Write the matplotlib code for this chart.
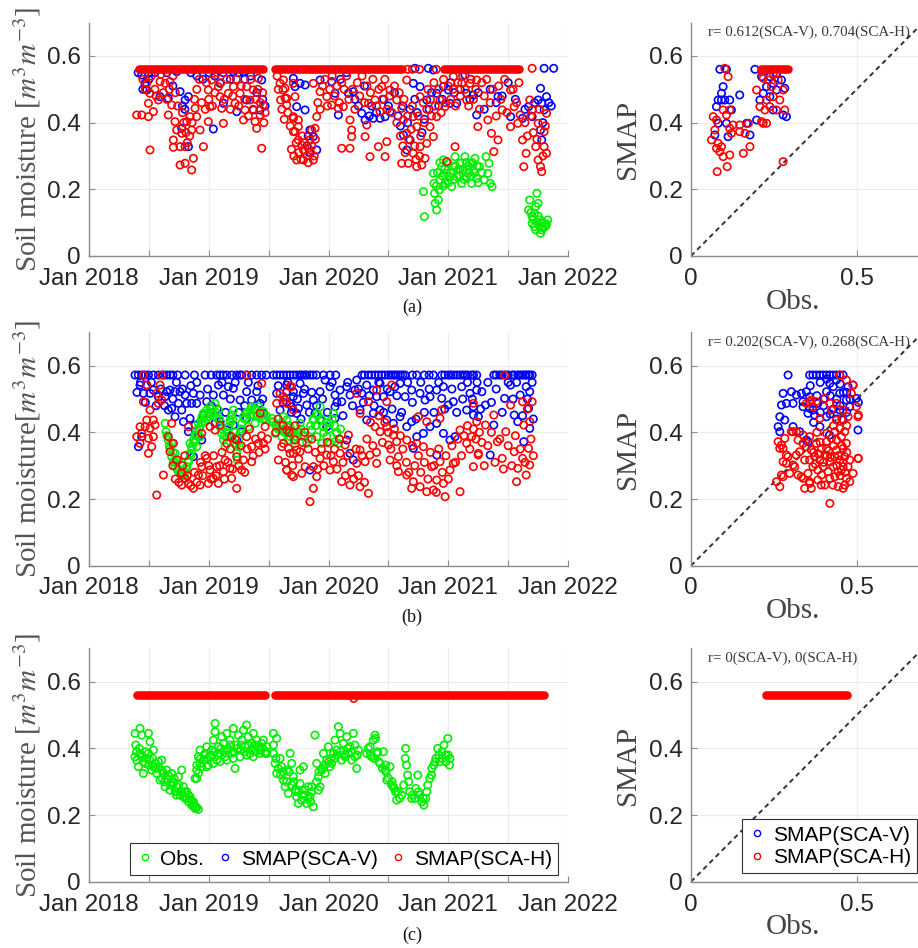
import numpy as np
import matplotlib
matplotlib.use('Agg')
import matplotlib.pyplot as plt
from matplotlib.lines import Line2D

plt.rcParams['font.family'] = ['Liberation Sans', 'DejaVu Sans']
plt.rcParams['mathtext.fontset'] = 'stix'

RED, BLUE, GREEN = '#ff0000', '#0000ff', '#00ee00'
SAT = 0.56  # SMAP saturation level seen in (a) and (c)

# ---------------- panel (a): time series, (decimal year, m3/m3) ----------------
a_h_runs = [(2018.42, 2019.455), (2019.555, 2020.61), (2020.96, 2021.59)]
a_h = [(2018.398, 0.423), (2018.44, 0.423), (2018.496, 0.418), (2018.509, 0.318), (2018.482, 0.518),
       (2018.509, 0.488), (2018.496, 0.458), (2018.537, 0.433), (2018.579, 0.468), (2018.593, 0.523),
       (2018.635, 0.518), (2018.676, 0.523), (2018.662, 0.423), (2018.69, 0.453), (2018.718, 0.403),
       (2018.732, 0.378), (2018.704, 0.348), (2018.704, 0.326), (2018.76, 0.328), (2018.802, 0.328),
       (2018.76, 0.273), (2018.802, 0.278), (2018.871, 0.293), (2018.857, 0.258), (2018.774, 0.368),
       (2018.816, 0.403), (2018.843, 0.418), (2018.885, 0.443), (2018.899, 0.418), (2018.857, 0.378),
       (2018.927, 0.378), (2018.955, 0.328), (2018.996, 0.403), (2019.01, 0.448), (2018.996, 0.498),
       (2019.024, 0.528), (2019.08, 0.508), (2019.094, 0.478), (2019.108, 0.443), (2019.122, 0.398),
       (2019.163, 0.488), (2019.205, 0.508), (2019.219, 0.458), (2019.261, 0.488), (2019.289, 0.408),
       (2019.303, 0.438), (2019.316, 0.508), (2019.344, 0.468), (2019.372, 0.498), (2019.386, 0.403),
       (2019.40, 0.383), (2019.428, 0.423), (2019.456, 0.453), (2019.442, 0.323), (2019.414, 0.533),
       (2018.45, 0.53), (2018.47, 0.50), (2018.52, 0.54), (2018.55, 0.50), (2018.56, 0.48),
       (2018.60, 0.545), (2018.62, 0.49), (2018.65, 0.47), (2018.67, 0.50), (2018.70, 0.54),
       (2018.72, 0.49), (2018.74, 0.45), (2018.78, 0.43), (2018.79, 0.40), (2018.81, 0.37),
       (2018.82, 0.34), (2018.84, 0.36), (2018.86, 0.40), (2018.88, 0.47), (2018.90, 0.50),
       (2018.92, 0.53), (2018.94, 0.46), (2018.97, 0.44), (2018.98, 0.52), (2019.00, 0.47),
       (2019.03, 0.45), (2019.05, 0.49), (2019.07, 0.55), (2019.10, 0.52), (2019.13, 0.47),
       (2019.15, 0.53), (2019.18, 0.44), (2019.20, 0.48), (2019.23, 0.53), (2019.25, 0.45),
       (2019.27, 0.51), (2019.30, 0.47), (2019.33, 0.42), (2019.35, 0.53), (2019.37, 0.44),
       (2019.39, 0.47), (2019.41, 0.50), (2019.43, 0.46), (2019.45, 0.49), (2019.46, 0.40),
       (2019.47, 0.43),
       (2019.595, 0.518), (2019.62, 0.498), (2019.60, 0.468), (2019.65, 0.473), (2019.706, 0.418),
       (2019.72, 0.373), (2019.748, 0.388), (2019.734, 0.288),
       (2019.623, 0.528), (2019.637, 0.503), (2019.637, 0.473), (2019.651, 0.453), (2019.706, 0.518),
       (2019.72, 0.478), (2019.706, 0.413), (2019.748, 0.408), (2019.706, 0.373), (2019.748, 0.348),
       (2019.776, 0.333), (2019.79, 0.318), (2019.832, 0.323), (2019.79, 0.288), (2019.873, 0.288),
       (2019.845, 0.348), (2019.859, 0.378), (2019.887, 0.383), (2019.901, 0.418), (2019.929, 0.493),
       (2019.873, 0.518), (2019.985, 0.478), (2020.026, 0.453), (2020.082, 0.443), (2020.124, 0.448),
       (2020.11, 0.323), (2020.179, 0.323), (2020.179, 0.408), (2020.193, 0.378), (2020.193, 0.358),
       (2020.305, 0.358), (2020.319, 0.393), (2020.333, 0.458), (2020.388, 0.468), (2020.346, 0.298),
       (2020.416, 0.328), (2020.472, 0.298), (2020.486, 0.343), (2020.43, 0.433), (2020.444, 0.508),
       (2020.513, 0.498), (2020.569, 0.468), (2020.611, 0.443), (2020.625, 0.408), (2020.653, 0.368),
       (2020.611, 0.278), (2020.666, 0.278), (2020.708, 0.308), (2020.736, 0.268), (2020.778, 0.273),
       (2020.806, 0.293), (2020.82, 0.338), (2020.764, 0.328), (2020.736, 0.388), (2020.708, 0.418),
       (2020.653, 0.528), (2020.764, 0.478), (2020.847, 0.388), (2020.875, 0.358), (2020.903, 0.418),
       (2020.931, 0.468), (2020.973, 0.448), (2021.056, 0.328), (2020.987, 0.283), (2021.042, 0.538),
       (2021.112, 0.518), (2021.181, 0.518), (2021.153, 0.468), (2021.237, 0.528), (2020.66, 0.56),
       (2020.70, 0.56), (2020.76, 0.56), (2020.90, 0.56),
       (2019.57, 0.54), (2019.58, 0.50), (2019.61, 0.44), (2019.63, 0.41), (2019.66, 0.43),
       (2019.68, 0.39), (2019.69, 0.32), (2019.71, 0.30), (2019.73, 0.34), (2019.75, 0.31),
       (2019.77, 0.29), (2019.78, 0.36), (2019.80, 0.34), (2019.82, 0.30), (2019.83, 0.28),
       (2019.85, 0.31), (2019.86, 0.33), (2019.88, 0.30), (2019.89, 0.35), (2019.91, 0.46),
       (2019.93, 0.44), (2019.95, 0.51), (2019.97, 0.53), (2019.99, 0.45), (2020.01, 0.50),
       (2020.03, 0.54), (2020.05, 0.48), (2020.07, 0.51), (2020.09, 0.46), (2020.11, 0.52),
       (2020.13, 0.50), (2020.15, 0.54), (2020.17, 0.47), (2020.20, 0.50), (2020.22, 0.44),
       (2020.24, 0.52), (2020.26, 0.48), (2020.28, 0.54), (2020.30, 0.46), (2020.32, 0.51),
       (2020.35, 0.49), (2020.37, 0.53), (2020.40, 0.45), (2020.42, 0.50), (2020.45, 0.47),
       (2020.47, 0.53), (2020.49, 0.44), (2020.51, 0.48), (2020.53, 0.43), (2020.55, 0.51),
       (2020.57, 0.40), (2020.59, 0.49), (2020.60, 0.36), (2020.62, 0.33), (2020.63, 0.47),
       (2020.64, 0.31), (2020.66, 0.42), (2020.67, 0.35), (2020.69, 0.38), (2020.70, 0.45),
       (2020.72, 0.33), (2020.73, 0.29), (2020.75, 0.42), (2020.76, 0.30), (2020.77, 0.36),
       (2020.79, 0.46), (2020.80, 0.40), (2020.82, 0.44), (2020.83, 0.50), (2020.85, 0.47),
       (2020.86, 0.42), (2020.88, 0.52), (2020.89, 0.45), (2020.92, 0.50), (2020.94, 0.43),
       (2020.96, 0.53), (2020.98, 0.46), (2021.00, 0.51), (2021.02, 0.47), (2021.04, 0.50),
       (2021.06, 0.45), (2021.08, 0.52), (2021.10, 0.48), (2021.12, 0.54), (2021.14, 0.50),
       (2021.17, 0.45), (2021.19, 0.53), (2021.21, 0.47), (2021.23, 0.50), (2021.26, 0.44),
       (2021.28, 0.52), (2021.30, 0.48), (2021.32, 0.53), (2021.35, 0.46), (2021.37, 0.50),
       (2021.40, 0.42), (2021.42, 0.51), (2021.44, 0.47), (2021.47, 0.53), (2021.49, 0.43),
       (2021.54, 0.50), (2021.57, 0.46), (2021.59, 0.52), (2021.64, 0.40), (2021.66, 0.36),
       (2021.69, 0.42), (2021.71, 0.37), (2021.74, 0.35), (2021.76, 0.44), (2021.79, 0.30),
       (2021.81, 0.39),
       (2021.247, 0.388), (2021.33, 0.408), (2021.38, 0.313), (2021.45, 0.438), (2021.52, 0.498),
       (2021.52, 0.388), (2021.60, 0.423), (2021.62, 0.348), (2021.65, 0.308), (2021.63, 0.268),
       (2021.68, 0.468), (2021.70, 0.438), (2021.73, 0.328), (2021.75, 0.288), (2021.77, 0.268),
       (2021.78, 0.253), (2021.80, 0.373), (2021.80, 0.328), (2021.82, 0.428), (2021.82, 0.308),
       (2021.75, 0.398), (2021.70, 0.563), (2021.36, 0.368), (2021.415, 0.348), (2021.55, 0.448),
       (2021.58, 0.398)]
a_v = [(2018.44, 0.543), (2018.468, 0.518), (2018.482, 0.498), (2018.496, 0.548), (2018.593, 0.478),
       (2018.662, 0.473), (2018.76, 0.493), (2018.802, 0.468), (2018.83, 0.478), (2018.774, 0.383),
       (2019.038, 0.381), (2019.094, 0.518), (2019.122, 0.458), (2019.233, 0.433), (2019.316, 0.468),
       (2019.372, 0.438), (2019.442, 0.528), (2019.428, 0.438), (2018.83, 0.328), (2018.732, 0.553),
       (2019.205, 0.553), (2019.289, 0.553), (2019.706, 0.533), (2019.72, 0.508), (2019.734, 0.448),
       (2018.41, 0.55), (2018.45, 0.50), (2018.50, 0.53), (2018.55, 0.55), (2018.65, 0.55),
       (2018.70, 0.51), (2018.78, 0.45), (2018.80, 0.44), (2018.85, 0.55), (2018.90, 0.54),
       (2018.95, 0.53), (2019.00, 0.55), (2019.05, 0.54), (2019.12, 0.55), (2019.18, 0.53),
       (2019.25, 0.55), (2019.30, 0.53), (2019.35, 0.54), (2019.40, 0.49), (2019.45, 0.47),
       (2019.47, 0.45),
       (2019.762, 0.518), (2019.804, 0.513), (2019.804, 0.438), (2019.845, 0.378), (2019.873, 0.358),
       (2019.901, 0.318), (2019.929, 0.528), (2020.026, 0.523), (2020.054, 0.488), (2020.082, 0.423),
       (2020.166, 0.488), (2020.207, 0.493), (2020.277, 0.428), (2020.305, 0.408), (2020.374, 0.413),
       (2020.43, 0.413), (2020.472, 0.418), (2020.513, 0.433), (2020.625, 0.363), (2020.653, 0.318),
       (2020.68, 0.348), (2020.708, 0.518), (2020.722, 0.563), (2020.833, 0.563), (2020.875, 0.558),
       (2020.764, 0.508), (2020.82, 0.468), (2020.903, 0.488), (2020.959, 0.508), (2021.0, 0.498),
       (2021.014, 0.458), (2021.07, 0.458), (2021.153, 0.488), (2021.209, 0.483), (2021.237, 0.423),
       (2021.139, 0.543),
       (2019.82, 0.33), (2019.83, 0.36), (2019.84, 0.31), (2020.10, 0.53), (2020.15, 0.55),
       (2020.22, 0.47), (2020.25, 0.45), (2020.30, 0.51), (2020.34, 0.42), (2020.36, 0.45),
       (2020.40, 0.43), (2020.46, 0.47), (2020.50, 0.45), (2020.55, 0.49), (2020.58, 0.42),
       (2020.60, 0.39), (2020.62, 0.45), (2020.66, 0.40), (2020.68, 0.44), (2020.72, 0.47),
       (2020.74, 0.43), (2020.78, 0.37), (2020.80, 0.41), (2020.84, 0.44), (2020.86, 0.49),
       (2020.92, 0.45), (2020.95, 0.47), (2021.02, 0.52), (2021.05, 0.49), (2021.10, 0.50),
       (2021.18, 0.47), (2021.25, 0.49), (2021.30, 0.44), (2021.35, 0.50), (2021.40, 0.46),
       (2021.45, 0.48), (2021.50, 0.52), (2021.56, 0.47), (2021.64, 0.44), (2021.72, 0.46),
       (2021.79, 0.40), (2021.84, 0.46), (2021.86, 0.45),
       (2021.62, 0.413), (2021.67, 0.448), (2021.70, 0.418), (2021.75, 0.468),
       (2021.77, 0.503), (2021.78, 0.458), (2021.80, 0.438), (2021.82, 0.478), (2021.80, 0.563),
       (2021.88, 0.563), (2021.77, 0.378), (2021.78, 0.348), (2021.52, 0.418), (2021.415, 0.478)]
a_obs = [(2020.792, 0.193), (2020.80, 0.118), (2020.875, 0.248), (2020.88, 0.218), (2020.885, 0.188),
         (2020.89, 0.158), (2020.903, 0.138), (2020.917, 0.168), (2020.924, 0.198), (2020.931, 0.228),
         (2020.945, 0.268), (2020.959, 0.288), (2020.973, 0.218), (2020.987, 0.248), (2021.0, 0.278),
         (2021.014, 0.238), (2021.028, 0.208), (2021.042, 0.268), (2021.056, 0.298), (2021.07, 0.238),
         (2021.084, 0.26), (2021.098, 0.278), (2021.112, 0.218), (2021.126, 0.258), (2021.139, 0.298),
         (2021.153, 0.238), (2021.167, 0.27), (2021.181, 0.278), (2021.195, 0.218), (2021.209, 0.258),
         (2021.223, 0.293), (2021.237, 0.233), (2021.26, 0.268), (2021.28, 0.25), (2021.30, 0.228),
         (2021.315, 0.298), (2021.33, 0.248), (2021.34, 0.278), (2021.35, 0.218), (2021.365, 0.208),
         (2020.95, 0.24), (2020.97, 0.26), (2021.0, 0.22), (2021.02, 0.25), (2021.05, 0.23),
         (2021.06, 0.27), (2021.09, 0.24), (2021.10, 0.26), (2021.13, 0.23), (2021.15, 0.28),
         (2021.17, 0.25), (2021.19, 0.24), (2021.20, 0.28), (2021.22, 0.25), (2021.24, 0.27),
         (2021.25, 0.22), (2020.91, 0.25), (2020.90, 0.21), (2020.93, 0.28), (2020.96, 0.21),
         (2021.67, 0.138), (2021.68, 0.168), (2021.70, 0.118), (2021.72, 0.088), (2021.73, 0.148),
         (2021.74, 0.188), (2021.75, 0.158), (2021.77, 0.108), (2021.78, 0.078), (2021.80, 0.098),
         (2021.81, 0.088), (2021.83, 0.108), (2021.77, 0.068), (2021.73, 0.078), (2021.70, 0.098),
         (2021.72, 0.128), (2021.69, 0.13), (2021.71, 0.11), (2021.74, 0.10), (2021.76, 0.09),
         (2021.79, 0.085), (2021.82, 0.095), (2021.75, 0.12), (2021.78, 0.10)]

# panel (a): scatter, (obs, SMAP)
a_sc_h_runs = [(0.21, 0.292)]
a_sc_h = [(0.102, 0.563), (0.112, 0.538), (0.067, 0.418), (0.077, 0.408), (0.072, 0.378), (0.062, 0.348),
          (0.082, 0.338), (0.077, 0.323), (0.087, 0.313), (0.092, 0.328), (0.097, 0.298), (0.117, 0.303),
          (0.079, 0.253), (0.109, 0.268), (0.097, 0.438), (0.107, 0.423), (0.117, 0.438), (0.122, 0.368),
          (0.127, 0.393), (0.117, 0.383), (0.147, 0.373), (0.163, 0.368), (0.173, 0.398), (0.158, 0.308),
          (0.178, 0.328), (0.147, 0.393), (0.198, 0.498), (0.208, 0.448), (0.218, 0.398), (0.223, 0.438),
          (0.228, 0.468), (0.238, 0.448), (0.243, 0.508), (0.248, 0.478), (0.258, 0.438), (0.263, 0.528),
          (0.278, 0.498), (0.283, 0.438), (0.268, 0.468), (0.233, 0.528), (0.218, 0.533), (0.213, 0.553),
          (0.248, 0.548), (0.278, 0.283), (0.213, 0.403), (0.228, 0.398)]
a_sc_v = [(0.087, 0.56), (0.107, 0.56), (0.097, 0.508), (0.082, 0.468), (0.092, 0.468), (0.102, 0.468),
          (0.117, 0.468), (0.092, 0.488), (0.077, 0.448), (0.082, 0.398), (0.072, 0.363), (0.107, 0.398),
          (0.112, 0.358), (0.122, 0.438), (0.147, 0.483), (0.168, 0.398), (0.178, 0.363), (0.198, 0.408),
          (0.193, 0.56), (0.213, 0.538), (0.218, 0.488), (0.228, 0.508), (0.238, 0.478), (0.248, 0.518),
          (0.258, 0.498), (0.273, 0.528), (0.283, 0.503), (0.288, 0.418), (0.278, 0.423), (0.248, 0.438),
          (0.208, 0.468), (0.258, 0.548), (0.238, 0.538)]

# ---------------- panel (b): time series ----------------
b_v = [(2018.384, 0.572), (2018.412, 0.572), (2018.44, 0.572), (2018.468, 0.572), (2018.496, 0.572),
       (2018.537, 0.572), (2018.579, 0.572), (2018.621, 0.572), (2018.649, 0.572), (2018.676, 0.572),
       (2018.802, 0.572), (2018.969, 0.572), (2019.066, 0.572), (2019.094, 0.572), (2019.15, 0.572),
       (2019.191, 0.572), (2019.233, 0.572), (2019.275, 0.572), (2019.316, 0.572), (2019.358, 0.572),
       (2019.40, 0.572), (2019.442, 0.572), (2019.539, 0.572), (2019.567, 0.572), (2019.595, 0.572),
       (2019.623, 0.572), (2019.651, 0.572), (2019.678, 0.572), (2019.706, 0.572), (2019.734, 0.572),
       (2019.776, 0.572), (2019.818, 0.572), (2019.845, 0.572), (2019.957, 0.572), (2020.012, 0.572),
       (2020.333, 0.572), (2020.36, 0.572), (2020.388, 0.572), (2020.416, 0.572), (2020.444, 0.572),
       (2020.472, 0.572), (2020.50, 0.572), (2020.541, 0.572), (2020.639, 0.572), (2020.736, 0.572),
       (2020.875, 0.572), (2020.945, 0.572), (2021.0, 0.572), (2021.042, 0.572), (2021.098, 0.572),
       (2021.139, 0.572), (2021.195, 0.572), (2021.237, 0.572), (2021.38, 0.572), (2021.43, 0.572),
       (2021.48, 0.572), (2021.535, 0.572), (2021.58, 0.572), (2021.62, 0.572), (2021.65, 0.572),
       (2021.68, 0.572),
       (2018.70, 0.572), (2018.74, 0.572), (2018.88, 0.572), (2019.02, 0.572), (2019.12, 0.572),
       (2019.26, 0.572), (2019.48, 0.572), (2019.76, 0.572), (2019.80, 0.572), (2019.87, 0.572),
       (2019.90, 0.572), (2020.06, 0.572), (2020.28, 0.572), (2020.30, 0.572), (2020.52, 0.572),
       (2020.56, 0.572), (2020.58, 0.572), (2020.60, 0.572), (2020.62, 0.572), (2020.70, 0.572),
       (2020.80, 0.572), (2020.84, 0.572), (2020.97, 0.572), (2021.02, 0.572), (2021.07, 0.572),
       (2021.12, 0.572), (2021.16, 0.572), (2021.21, 0.572), (2021.40, 0.572), (2021.45, 0.572),
       (2021.50, 0.572), (2021.55, 0.572), (2021.60, 0.572), (2021.64, 0.572), (2021.67, 0.572),
       (2021.70, 0.572),
       (2018.426, 0.542), (2018.454, 0.517), (2018.482, 0.542), (2018.509, 0.517), (2018.537, 0.527),
       (2018.579, 0.507), (2018.635, 0.507), (2018.649, 0.522), (2018.676, 0.527), (2018.718, 0.522),
       (2018.76, 0.522), (2018.662, 0.467), (2018.69, 0.472), (2018.746, 0.487), (2018.774, 0.467),
       (2018.816, 0.487), (2018.857, 0.487), (2018.899, 0.487), (2018.802, 0.512), (2018.871, 0.517),
       (2018.927, 0.512), (2018.718, 0.447), (2018.788, 0.432), (2018.843, 0.442), (2018.83, 0.402),
       (2018.885, 0.422), (2018.913, 0.387), (2018.941, 0.377), (2018.871, 0.327), (2018.983, 0.492),
       (2019.038, 0.512), (2019.08, 0.542), (2019.122, 0.512), (2019.163, 0.537), (2019.205, 0.532),
       (2019.261, 0.497), (2019.316, 0.522), (2019.358, 0.497), (2019.40, 0.522), (2019.428, 0.487),
       (2019.01, 0.457), (2019.052, 0.427), (2019.094, 0.432), (2019.15, 0.407), (2019.205, 0.422),
       (2019.233, 0.377), (2019.275, 0.402), (2019.316, 0.442), (2019.456, 0.457), (2018.412, 0.357),
       (2018.44, 0.387), (2019.567, 0.517), (2019.651, 0.522), (2019.706, 0.507), (2019.692, 0.477),
       (2019.734, 0.457), (2019.595, 0.467),
       (2018.40, 0.52), (2018.43, 0.55), (2018.47, 0.49), (2018.52, 0.55), (2018.56, 0.48),
       (2018.60, 0.53), (2018.63, 0.48), (2018.70, 0.50), (2018.73, 0.55), (2018.78, 0.53),
       (2018.85, 0.54), (2018.90, 0.55), (2018.95, 0.45), (2018.99, 0.53), (2019.02, 0.48),
       (2019.07, 0.47), (2019.11, 0.55), (2019.14, 0.46), (2019.18, 0.50), (2019.22, 0.55),
       (2019.25, 0.46), (2019.30, 0.48), (2019.33, 0.55), (2019.38, 0.47), (2019.41, 0.54),
       (2019.45, 0.50), (2019.58, 0.54), (2019.62, 0.49), (2019.66, 0.55), (2019.69, 0.46),
       (2019.74, 0.50), (2019.77, 0.44), (2019.80, 0.53), (2019.84, 0.46), (2019.86, 0.52),
       (2019.90, 0.48), (2019.95, 0.50), (2019.99, 0.46), (2020.03, 0.55), (2020.07, 0.49),
       (2020.12, 0.45), (2020.16, 0.55), (2020.20, 0.48), (2020.25, 0.53), (2020.29, 0.49),
       (2020.34, 0.51), (2020.38, 0.48), (2020.42, 0.55), (2020.46, 0.46), (2020.49, 0.53),
       (2020.53, 0.47), (2020.57, 0.51), (2020.61, 0.46), (2020.66, 0.55), (2020.70, 0.49),
       (2020.73, 0.44), (2020.77, 0.55), (2020.80, 0.46), (2020.84, 0.53), (2020.88, 0.46),
       (2020.92, 0.55), (2020.97, 0.47), (2021.03, 0.53), (2021.07, 0.46), (2021.12, 0.50),
       (2021.16, 0.55), (2021.20, 0.50), (2021.24, 0.55), (2021.27, 0.47), (2021.33, 0.55),
       (2021.36, 0.49), (2021.40, 0.53), (2021.45, 0.46), (2021.50, 0.55), (2021.54, 0.50),
       (2021.57, 0.55), (2021.62, 0.45), (2021.66, 0.50), (2021.70, 0.55), (2021.71, 0.44),
       (2019.651, 0.542), (2019.706, 0.522), (2019.762, 0.547), (2019.79, 0.517), (2019.678, 0.487),
       (2019.748, 0.472), (2019.818, 0.482), (2019.873, 0.497), (2019.929, 0.522), (2019.971, 0.557),
       (2020.012, 0.537), (2020.054, 0.512), (2020.096, 0.527), (2020.054, 0.477), (2019.887, 0.457),
       (2019.929, 0.437), (2019.985, 0.417), (2020.054, 0.442), (2020.11, 0.492), (2020.152, 0.537),
       (2020.179, 0.512), (2020.235, 0.557), (2020.221, 0.527), (2020.277, 0.517), (2020.319, 0.542),
       (2020.374, 0.527), (2020.43, 0.547), (2020.402, 0.507), (2020.458, 0.507), (2020.513, 0.522),
       (2020.555, 0.537), (2020.597, 0.547), (2020.639, 0.507), (2020.694, 0.527), (2020.764, 0.517),
       (2020.806, 0.497), (2020.847, 0.507), (2020.903, 0.527), (2020.959, 0.537), (2020.945, 0.502),
       (2021.0, 0.482), (2021.042, 0.492), (2021.112, 0.537), (2021.181, 0.517), (2021.237, 0.527),
       (2020.263, 0.467), (2020.319, 0.437), (2020.374, 0.457), (2020.43, 0.467), (2020.486, 0.437),
       (2020.541, 0.427), (2020.597, 0.447), (2020.653, 0.417), (2020.694, 0.432), (2020.736, 0.387),
       (2020.792, 0.397), (2020.847, 0.417), (2020.903, 0.427), (2020.959, 0.397), (2021.014, 0.377),
       (2021.056, 0.387), (2020.152, 0.377), (2020.179, 0.337), (2020.207, 0.317), (2019.845, 0.287),
       (2020.708, 0.352), (2020.903, 0.332), (2021.153, 0.467), (2021.209, 0.477), (2021.251, 0.447),
       (2021.28, 0.522), (2021.31, 0.482), (2021.47, 0.502), (2021.52, 0.542), (2021.55, 0.452),
       (2021.58, 0.432), (2021.60, 0.512), (2021.63, 0.372), (2021.65, 0.537), (2021.68, 0.522),
       (2021.67, 0.472), (2021.68, 0.412), (2021.38, 0.422), (2021.35, 0.332), (2021.21, 0.452)]
b_h = [(2018.454, 0.572), (2018.607, 0.572), (2018.482, 0.542), (2018.593, 0.542), (2018.565, 0.517),
       (2018.607, 0.497), (2018.579, 0.487), (2018.454, 0.492), (2018.509, 0.467), (2018.482, 0.437),
       (2018.537, 0.437), (2018.426, 0.417), (2018.468, 0.417), (2018.509, 0.412), (2018.551, 0.422),
       (2018.398, 0.387), (2018.44, 0.397), (2018.496, 0.382), (2018.537, 0.387), (2018.426, 0.367),
       (2018.523, 0.357), (2018.496, 0.337), (2018.621, 0.272), (2018.565, 0.212), (2018.69, 0.427),
       (2018.662, 0.387), (2018.704, 0.367), (2018.676, 0.342), (2018.732, 0.317), (2018.774, 0.277),
       (2018.802, 0.262), (2018.774, 0.242), (2018.83, 0.247), (2018.871, 0.232), (2018.927, 0.242),
       (2018.913, 0.272), (2018.941, 0.297), (2018.983, 0.322), (2019.01, 0.287), (2019.038, 0.262),
       (2018.996, 0.247), (2019.08, 0.247), (2019.066, 0.297), (2019.136, 0.317), (2019.122, 0.282),
       (2019.177, 0.292), (2019.191, 0.262), (2019.233, 0.232), (2019.233, 0.327), (2019.289, 0.317),
       (2019.275, 0.287), (2019.358, 0.312), (2019.316, 0.387), (2019.358, 0.357), (2019.414, 0.367),
       (2019.456, 0.367), (2019.47, 0.417), (2019.428, 0.457), (2019.442, 0.547), (2019.316, 0.572),
       (2019.052, 0.407), (2019.094, 0.422), (2019.15, 0.367), (2019.191, 0.387), (2018.941, 0.397),
       (2019.01, 0.417), (2018.83, 0.417), (2019.595, 0.517), (2019.637, 0.497), (2019.692, 0.537),
       (2019.567, 0.487), (2019.609, 0.357), (2019.581, 0.317), (2019.678, 0.337), (2019.734, 0.347),
       (2019.651, 0.287), (2019.706, 0.267), (2019.72, 0.377), (2019.651, 0.407),
       (2018.70, 0.30), (2018.72, 0.26), (2018.75, 0.25), (2018.78, 0.30), (2018.80, 0.33),
       (2018.82, 0.27), (2018.85, 0.24), (2018.88, 0.28), (2018.90, 0.25), (2018.93, 0.31),
       (2018.95, 0.27), (2018.97, 0.33), (2019.00, 0.30), (2019.02, 0.26), (2019.04, 0.33),
       (2019.06, 0.27), (2019.09, 0.30), (2019.11, 0.34), (2019.13, 0.26), (2019.16, 0.31),
       (2019.18, 0.35), (2019.20, 0.29), (2019.22, 0.38), (2019.25, 0.30), (2019.27, 0.36),
       (2019.30, 0.28), (2019.32, 0.35), (2019.34, 0.41), (2019.37, 0.33), (2019.39, 0.38),
       (2019.42, 0.34), (2019.44, 0.39), (2019.47, 0.35), (2019.49, 0.38),
       (2019.56, 0.40), (2019.58, 0.44), (2019.62, 0.42), (2019.64, 0.31), (2019.67, 0.40),
       (2019.70, 0.30), (2019.72, 0.42), (2019.75, 0.32), (2019.78, 0.37), (2019.80, 0.40),
       (2019.83, 0.35), (2019.86, 0.38), (2019.89, 0.34), (2019.91, 0.29), (2019.94, 0.35),
       (2019.96, 0.30), (2019.99, 0.37), (2020.02, 0.33), (2020.05, 0.35), (2020.07, 0.29),
       (2020.09, 0.38), (2020.12, 0.31), (2020.14, 0.27), (2020.16, 0.33), (2020.19, 0.28),
       (2020.21, 0.26), (2020.23, 0.35), (2020.25, 0.27), (2020.28, 0.33), (2020.30, 0.25),
       (2020.32, 0.38), (2020.35, 0.43), (2020.37, 0.36), (2020.40, 0.34), (2020.42, 0.45),
       (2020.45, 0.37), (2020.47, 0.43), (2020.50, 0.40), (2020.52, 0.35), (2020.55, 0.41),
       (2020.57, 0.30), (2020.60, 0.39), (2020.62, 0.35), (2020.65, 0.31), (2020.67, 0.28),
       (2020.70, 0.36), (2020.72, 0.30), (2020.75, 0.33), (2020.77, 0.28), (2020.80, 0.31),
       (2020.83, 0.26), (2020.85, 0.34), (2020.88, 0.30), (2020.90, 0.22), (2020.92, 0.35),
       (2020.95, 0.28), (2020.98, 0.33), (2021.00, 0.26), (2021.03, 0.36), (2021.06, 0.31),
       (2021.08, 0.38), (2021.11, 0.33), (2021.13, 0.39), (2021.16, 0.42), (2021.18, 0.35),
       (2021.21, 0.41), (2021.23, 0.38), (2021.26, 0.40), (2021.28, 0.37), (2021.30, 0.30),
       (2021.33, 0.36), (2021.36, 0.40), (2021.39, 0.31), (2021.43, 0.38), (2021.46, 0.29),
       (2021.50, 0.36), (2021.53, 0.30), (2021.56, 0.39), (2021.60, 0.35), (2021.64, 0.31),
       (2021.66, 0.47), (2021.69, 0.38), (2021.71, 0.33),
       (2019.678, 0.537), (2019.623, 0.507), (2019.651, 0.487), (2019.706, 0.467), (2019.623, 0.367),
       (2019.665, 0.352), (2019.706, 0.337), (2019.762, 0.342), (2019.651, 0.287), (2019.692, 0.272),
       (2019.776, 0.277), (2019.804, 0.297), (2019.873, 0.297), (2019.901, 0.267), (2019.873, 0.232),
       (2019.845, 0.192), (2019.929, 0.322), (2019.985, 0.332), (2020.04, 0.312), (2020.012, 0.287),
       (2020.096, 0.337), (2020.138, 0.362), (2020.166, 0.392), (2020.11, 0.252), (2020.179, 0.242),
       (2020.263, 0.237), (2020.333, 0.217), (2020.235, 0.307), (2020.305, 0.312), (2020.346, 0.332),
       (2020.402, 0.307), (2020.263, 0.347), (2020.235, 0.517), (2020.333, 0.492), (2020.402, 0.527),
       (2020.486, 0.492), (2020.527, 0.542), (2020.263, 0.457), (2020.388, 0.417), (2020.43, 0.402),
       (2020.486, 0.417), (2020.541, 0.392), (2020.569, 0.372), (2020.50, 0.362), (2020.583, 0.327),
       (2020.513, 0.317), (2020.583, 0.282), (2020.653, 0.272), (2020.708, 0.252), (2020.694, 0.232),
       (2020.764, 0.237), (2020.82, 0.222), (2020.875, 0.227), (2020.903, 0.257), (2020.959, 0.247),
       (2020.973, 0.207), (2021.098, 0.222), (2020.861, 0.297), (2020.931, 0.312), (2021.014, 0.287),
       (2021.042, 0.307), (2020.75, 0.447), (2020.82, 0.432), (2020.931, 0.442), (2020.945, 0.467),
       (2021.098, 0.407), (2021.153, 0.367), (2021.195, 0.387), (2021.209, 0.487), (2021.237, 0.432),
       (2021.209, 0.297), (2021.251, 0.337), (2020.736, 0.367), (2020.792, 0.357), (2020.653, 0.377),
       (2021.25, 0.332), (2021.31, 0.422), (2021.38, 0.452), (2021.41, 0.372), (2021.45, 0.322),
       (2021.48, 0.402), (2021.52, 0.482), (2021.55, 0.342), (2021.57, 0.252), (2021.58, 0.292),
       (2021.62, 0.322), (2021.63, 0.422), (2021.65, 0.272), (2021.67, 0.352), (2021.68, 0.302),
       (2021.70, 0.492), (2021.68, 0.432), (2021.62, 0.492), (2021.47, 0.572)]
b_obs = [(2018.635, 0.427), (2018.643, 0.402), (2018.662, 0.377), (2018.676, 0.352), (2018.69, 0.327),
         (2018.704, 0.312), (2018.718, 0.297), (2018.738, 0.287), (2018.76, 0.277), (2018.782, 0.272),
         (2018.802, 0.282), (2018.69, 0.367), (2018.718, 0.337), (2018.746, 0.317), (2018.816, 0.297),
         (2018.83, 0.317), (2018.843, 0.337), (2018.857, 0.357), (2018.871, 0.377), (2018.885, 0.392),
         (2018.899, 0.407), (2018.913, 0.427), (2018.927, 0.417), (2018.941, 0.442), (2018.955, 0.457),
         (2018.969, 0.432), (2018.983, 0.467), (2018.996, 0.447), (2018.843, 0.367), (2018.899, 0.357),
         (2018.927, 0.387), (2019.01, 0.477), (2019.038, 0.457), (2019.052, 0.487), (2019.066, 0.442),
         (2019.08, 0.467), (2019.094, 0.417), (2019.108, 0.397), (2019.122, 0.377), (2019.136, 0.357),
         (2019.15, 0.387), (2019.163, 0.417), (2019.177, 0.437), (2019.191, 0.452), (2019.205, 0.467),
         (2019.219, 0.367), (2019.233, 0.337), (2019.24, 0.317), (2019.255, 0.357), (2019.261, 0.397),
         (2019.275, 0.427), (2019.289, 0.447), (2019.316, 0.457), (2019.344, 0.467), (2019.358, 0.477),
         (2019.372, 0.452), (2019.40, 0.467), (2019.414, 0.477), (2019.428, 0.447), (2019.456, 0.462),
         (2019.47, 0.442), (2019.33, 0.417), (2019.386, 0.427), (2019.525, 0.442), (2019.539, 0.432),
         (2019.567, 0.417), (2019.595, 0.422), (2019.623, 0.407), (2019.651, 0.437), (2019.678, 0.417),
         (2019.706, 0.402), (2019.734, 0.387), (2019.553, 0.397), (2019.609, 0.387), (2019.664, 0.377),
         (2019.623, 0.447), (2019.651, 0.417), (2019.678, 0.387), (2019.72, 0.367), (2019.748, 0.402),
         (2019.762, 0.427), (2019.79, 0.387), (2019.818, 0.367), (2019.859, 0.407), (2019.873, 0.437),
         (2019.901, 0.457), (2019.929, 0.477), (2019.957, 0.417), (2019.985, 0.387), (2020.012, 0.427),
         (2020.04, 0.457), (2020.068, 0.397), (2020.082, 0.367), (2020.054, 0.372), (2019.901, 0.387),
         (2019.943, 0.367), (2020.012, 0.367),
         (2018.65, 0.39), (2018.67, 0.36), (2018.70, 0.34), (2018.72, 0.31), (2018.75, 0.29),
         (2018.77, 0.28), (2018.79, 0.27), (2018.81, 0.29), (2018.83, 0.31), (2018.85, 0.33),
         (2018.86, 0.35), (2018.88, 0.37), (2018.90, 0.39), (2018.92, 0.41), (2018.94, 0.43),
         (2018.96, 0.45), (2018.98, 0.44), (2019.00, 0.46), (2019.02, 0.47), (2019.04, 0.45),
         (2019.06, 0.46), (2019.09, 0.44), (2019.11, 0.41), (2019.13, 0.39), (2019.16, 0.40),
         (2019.18, 0.43), (2019.20, 0.44), (2019.22, 0.40), (2019.23, 0.36), (2019.25, 0.38),
         (2019.27, 0.41), (2019.30, 0.44), (2019.32, 0.46), (2019.35, 0.45), (2019.38, 0.47),
         (2019.40, 0.45), (2019.43, 0.46), (2019.45, 0.44), (2019.48, 0.45), (2019.53, 0.43),
         (2019.56, 0.42), (2019.58, 0.41), (2019.61, 0.43), (2019.63, 0.40), (2019.66, 0.42),
         (2019.69, 0.40), (2019.71, 0.38), (2019.74, 0.40), (2019.77, 0.41), (2019.80, 0.39),
         (2019.83, 0.38), (2019.85, 0.42), (2019.87, 0.44), (2019.89, 0.42), (2019.91, 0.45),
         (2019.94, 0.44), (2019.96, 0.40), (2019.98, 0.43), (2020.00, 0.41), (2020.03, 0.44),
         (2020.05, 0.42), (2020.07, 0.40), (2020.09, 0.38), (2020.10, 0.41)]

# panel (b): scatter
b_sc_v = [(0.293, 0.572), (0.358, 0.572), (0.368, 0.572), (0.378, 0.572), (0.389, 0.572), (0.399, 0.572),
          (0.409, 0.572), (0.419, 0.572), (0.429, 0.572), (0.439, 0.572), (0.449, 0.572), (0.459, 0.572),
          (0.278, 0.517), (0.303, 0.522), (0.318, 0.512), (0.333, 0.517), (0.348, 0.522), (0.358, 0.507),
          (0.273, 0.482), (0.288, 0.487), (0.268, 0.447), (0.283, 0.437), (0.263, 0.417), (0.268, 0.402),
          (0.338, 0.477), (0.353, 0.457), (0.368, 0.467), (0.383, 0.487), (0.409, 0.522), (0.429, 0.537),
          (0.449, 0.517), (0.469, 0.497), (0.479, 0.477), (0.499, 0.502), (0.504, 0.407), (0.449, 0.467),
          (0.409, 0.447), (0.389, 0.417), (0.348, 0.377), (0.328, 0.402), (0.308, 0.417), (0.459, 0.437),
          (0.474, 0.537), (0.489, 0.542), (0.439, 0.557), (0.419, 0.547), (0.308, 0.487), (0.338, 0.492),
          (0.358, 0.472), (0.373, 0.452), (0.353, 0.372), (0.418, 0.392), (0.505, 0.49), (0.38, 0.51),
          (0.40, 0.50), (0.42, 0.51), (0.44, 0.50), (0.46, 0.52), (0.45, 0.48), (0.43, 0.47),
          (0.37, 0.43), (0.39, 0.46), (0.36, 0.54), (0.39, 0.55), (0.41, 0.56), (0.45, 0.545),
          (0.47, 0.52), (0.40, 0.48), (0.42, 0.455), (0.44, 0.44), (0.47, 0.46), (0.48, 0.50)]
b_sc_h = [(0.449, 0.572), (0.469, 0.557), (0.489, 0.542), (0.484, 0.517), (0.499, 0.477), (0.504, 0.447),
          (0.504, 0.322), (0.363, 0.497), (0.348, 0.487), (0.368, 0.477), (0.404, 0.502), (0.419, 0.487),
          (0.439, 0.487), (0.424, 0.467), (0.389, 0.442), (0.439, 0.437), (0.459, 0.467), (0.474, 0.447),
          (0.308, 0.402), (0.323, 0.377), (0.283, 0.382), (0.278, 0.352), (0.293, 0.327), (0.288, 0.307),
          (0.313, 0.297), (0.298, 0.277), (0.268, 0.237), (0.278, 0.267), (0.333, 0.267), (0.343, 0.232),
          (0.358, 0.247), (0.383, 0.257), (0.404, 0.242), (0.419, 0.262), (0.444, 0.237), (0.464, 0.242),
          (0.469, 0.262), (0.454, 0.287), (0.479, 0.317), (0.419, 0.187),
          (0.348, 0.357), (0.363, 0.347), (0.378, 0.367), (0.394, 0.352), (0.409, 0.372), (0.424, 0.382),
          (0.439, 0.377), (0.454, 0.387), (0.469, 0.367), (0.358, 0.317), (0.373, 0.327), (0.389, 0.317),
          (0.404, 0.332), (0.419, 0.312), (0.434, 0.327), (0.449, 0.317), (0.464, 0.327), (0.368, 0.297),
          (0.383, 0.287), (0.399, 0.297), (0.414, 0.282), (0.429, 0.297), (0.444, 0.282), (0.459, 0.297),
          (0.353, 0.277), (0.394, 0.272), (0.434, 0.267), (0.409, 0.352), (0.439, 0.347), (0.459, 0.352),
          (0.449, 0.412), (0.464, 0.402), (0.434, 0.402), (0.409, 0.397), (0.358, 0.387), (0.338, 0.367),
          (0.328, 0.342), (0.343, 0.317), (0.474, 0.297), (0.489, 0.277),
          (0.258, 0.252), (0.273, 0.272), (0.278, 0.312), (0.268, 0.352), (0.263, 0.372), (0.288, 0.332),
          (0.308, 0.302), (0.318, 0.332), (0.323, 0.272), (0.338, 0.262), (0.358, 0.252), (0.363, 0.232),
          (0.393, 0.242), (0.428, 0.242), (0.459, 0.232), (0.479, 0.252), (0.505, 0.322), (0.505, 0.452),
          (0.358, 0.492), (0.378, 0.492), (0.318, 0.402), (0.338, 0.392), (0.273, 0.362), (0.303, 0.402),
          (0.37, 0.34), (0.385, 0.335), (0.40, 0.31), (0.415, 0.345), (0.43, 0.36), (0.445, 0.33),
          (0.46, 0.31), (0.375, 0.305), (0.42, 0.325), (0.44, 0.30), (0.455, 0.36), (0.47, 0.34),
          (0.45, 0.27), (0.465, 0.28), (0.39, 0.37), (0.41, 0.33), (0.43, 0.42), (0.455, 0.44),
          (0.47, 0.42), (0.38, 0.40)]

# ---------------- panel (c): time series ----------------
c_h_runs = [(2018.40, 2019.47), (2019.55, 2021.80)]
c_h = [(2020.21, 0.55)]
c_obs = [(2018.384, 0.445), (2018.426, 0.46), (2018.44, 0.44), (2018.496, 0.445), (2018.509, 0.42),
         (2018.398, 0.39), (2018.398, 0.365), (2018.412, 0.345), (2018.44, 0.375), (2018.454, 0.325),
         (2018.468, 0.355), (2018.496, 0.385), (2018.509, 0.365), (2018.523, 0.335), (2018.537, 0.395),
         (2018.551, 0.355), (2018.565, 0.325), (2018.579, 0.345), (2018.593, 0.305), (2018.607, 0.365),
         (2018.621, 0.325), (2018.635, 0.285), (2018.649, 0.335), (2018.662, 0.305), (2018.676, 0.275),
         (2018.69, 0.325), (2018.704, 0.295), (2018.718, 0.27), (2018.732, 0.285), (2018.746, 0.315),
         (2018.76, 0.26), (2018.774, 0.335), (2018.788, 0.285), (2018.802, 0.25), (2018.816, 0.27),
         (2018.83, 0.24), (2018.843, 0.255), (2018.857, 0.23), (2018.871, 0.24), (2018.885, 0.22),
         (2018.899, 0.223), (2018.913, 0.217), (2018.384, 0.375), (2018.426, 0.385), (2018.482, 0.37),
         (2018.537, 0.345), (2018.607, 0.335), (2018.649, 0.31), (2018.69, 0.30), (2018.732, 0.27),
         (2018.788, 0.255), (2018.83, 0.26), (2018.871, 0.227),
         (2018.39, 0.41), (2018.42, 0.40), (2018.45, 0.36), (2018.47, 0.39), (2018.50, 0.35),
         (2018.53, 0.37), (2018.56, 0.34), (2018.58, 0.36), (2018.61, 0.31), (2018.63, 0.30),
         (2018.66, 0.32), (2018.68, 0.29), (2018.71, 0.31), (2018.73, 0.26), (2018.75, 0.29),
         (2018.77, 0.27), (2018.80, 0.27), (2018.82, 0.25), (2018.85, 0.245), (2018.87, 0.235),
         (2018.89, 0.225),
         (2018.885, 0.31), (2018.899, 0.335), (2018.913, 0.375), (2018.927, 0.395), (2018.941, 0.345),
         (2018.955, 0.365), (2018.969, 0.385), (2018.983, 0.405), (2018.996, 0.35), (2019.01, 0.375),
         (2019.024, 0.395), (2019.038, 0.425), (2019.052, 0.475), (2019.052, 0.45), (2019.066, 0.365),
         (2019.08, 0.405), (2019.094, 0.385), (2019.108, 0.435), (2019.122, 0.415), (2019.136, 0.375),
         (2019.15, 0.445), (2019.163, 0.395), (2019.177, 0.425), (2019.191, 0.385), (2019.205, 0.46),
         (2019.219, 0.34), (2019.233, 0.41), (2019.247, 0.44), (2019.261, 0.395), (2019.275, 0.425),
         (2019.289, 0.455), (2019.303, 0.405), (2019.316, 0.47), (2019.33, 0.435), (2019.344, 0.385),
         (2019.358, 0.415), (2019.372, 0.445), (2019.386, 0.39), (2019.40, 0.425), (2019.414, 0.405),
         (2019.428, 0.385), (2019.442, 0.415), (2019.456, 0.425), (2019.47, 0.385), (2019.484, 0.405),
         (2018.927, 0.355), (2018.983, 0.345), (2019.038, 0.355), (2019.094, 0.36), (2019.15, 0.365),
         (2019.205, 0.37), (2019.261, 0.375), (2019.316, 0.38), (2019.372, 0.375), (2019.428, 0.395),
         (2019.484, 0.385), (2018.899, 0.31), (2018.913, 0.325),
         (2018.90, 0.35), (2018.93, 0.37), (2018.96, 0.38), (2018.99, 0.37), (2019.02, 0.38),
         (2019.05, 0.39), (2019.07, 0.38), (2019.10, 0.40), (2019.13, 0.39), (2019.16, 0.40),
         (2019.18, 0.41), (2019.21, 0.39), (2019.24, 0.40), (2019.27, 0.41), (2019.30, 0.39),
         (2019.33, 0.41), (2019.36, 0.40), (2019.39, 0.41), (2019.42, 0.40), (2019.45, 0.40),
         (2019.48, 0.39),
         (2019.539, 0.445), (2019.567, 0.43), (2019.539, 0.385), (2019.553, 0.355), (2019.567, 0.325),
         (2019.595, 0.37), (2019.609, 0.345), (2019.623, 0.305), (2019.637, 0.285), (2019.651, 0.335),
         (2019.678, 0.385), (2019.692, 0.355), (2019.706, 0.315), (2019.72, 0.275), (2019.734, 0.255),
         (2019.762, 0.295), (2019.776, 0.245), (2019.79, 0.345), (2019.804, 0.275), (2019.818, 0.235),
         (2019.845, 0.255), (2019.873, 0.225), (2019.859, 0.285), (2019.664, 0.265), (2019.748, 0.235),
         (2019.832, 0.285), (2019.762, 0.335),
         (2019.54, 0.41), (2019.56, 0.37), (2019.58, 0.34), (2019.60, 0.32), (2019.62, 0.33),
         (2019.65, 0.30), (2019.67, 0.33), (2019.69, 0.29), (2019.71, 0.30), (2019.73, 0.27),
         (2019.75, 0.27), (2019.78, 0.26), (2019.80, 0.26), (2019.83, 0.25), (2019.85, 0.24),
         (2019.86, 0.27),
         (2019.887, 0.44), (2019.901, 0.355), (2019.915, 0.315), (2019.929, 0.285), (2019.943, 0.335),
         (2019.957, 0.385), (2019.985, 0.365), (2019.998, 0.405), (2020.012, 0.345), (2020.04, 0.385),
         (2020.054, 0.425), (2020.068, 0.395), (2020.082, 0.465), (2020.096, 0.445), (2020.11, 0.365),
         (2020.124, 0.415), (2020.152, 0.435), (2020.166, 0.385), (2020.179, 0.405), (2020.207, 0.445),
         (2020.221, 0.375), (2020.235, 0.34), (2020.249, 0.395), (2019.915, 0.275), (2019.971, 0.325),
         (2020.026, 0.355), (2020.138, 0.375), (2020.193, 0.365),
         (2019.90, 0.30), (2019.92, 0.33), (2019.95, 0.34), (2019.97, 0.35), (2020.00, 0.36),
         (2020.02, 0.37), (2020.05, 0.37), (2020.07, 0.38), (2020.10, 0.39), (2020.13, 0.38),
         (2020.16, 0.40), (2020.19, 0.39), (2020.22, 0.41), (2020.24, 0.38),
         (2020.318, 0.385), (2020.346, 0.405), (2020.374, 0.425), (2020.388, 0.44), (2020.36, 0.375),
         (2020.402, 0.385), (2020.43, 0.355), (2020.458, 0.39), (2020.472, 0.335), (2020.486, 0.305),
         (2020.513, 0.345), (2020.541, 0.285), (2020.569, 0.245), (2020.393, 0.43), (2020.41, 0.39),
         (2020.476, 0.35), (2020.527, 0.29), (2020.56, 0.27), (2020.594, 0.25), (2020.627, 0.29),
         (2020.644, 0.40), (2020.651, 0.35), (2020.661, 0.32), (2020.678, 0.27), (2020.694, 0.25),
         (2020.728, 0.28), (2020.745, 0.32), (2020.762, 0.26), (2020.778, 0.24), (2020.795, 0.23),
         (2020.812, 0.25), (2020.828, 0.29), (2020.845, 0.31), (2020.862, 0.34), (2020.879, 0.35),
         (2020.896, 0.37), (2020.912, 0.40), (2020.929, 0.36), (2020.946, 0.39), (2020.963, 0.41),
         (2020.979, 0.38), (2020.996, 0.43), (2021.013, 0.37),
         (2020.33, 0.40), (2020.35, 0.38), (2020.38, 0.37), (2020.42, 0.36), (2020.45, 0.34),
         (2020.48, 0.33), (2020.50, 0.31), (2020.53, 0.30), (2020.55, 0.28), (2020.58, 0.27),
         (2020.61, 0.26), (2020.64, 0.37), (2020.67, 0.30), (2020.70, 0.26), (2020.72, 0.25),
         (2020.75, 0.27), (2020.79, 0.25), (2020.82, 0.27), (2020.86, 0.32), (2020.89, 0.36),
         (2020.92, 0.38), (2020.95, 0.37), (2020.98, 0.36), (2021.0, 0.38), (2021.01, 0.35)]

# panel (c): scatter
c_sc_h_runs = [(0.225, 0.472)]

r_texts = ['r= 0.612(SCA-V), 0.704(SCA-H)',
           'r= 0.202(SCA-V), 0.268(SCA-H)',
           'r= 0(SCA-V), 0(SCA-H)']
ylabels = [r'Soil moisture [$m^3m^{-3}$]', r'Soil moisture[$m^3m^{-3}$]', r'Soil moisture [$m^3m^{-3}$]']
captions = ['(a)', '(b)', '(c)']

# ---------------- drawing ----------------
SERIF = ['Liberation Serif', 'DejaVu Serif']
AX_GRAY = '#8c8c8c'


def style(ax):
    for s in ('top', 'right'):
        ax.spines[s].set_visible(False)
    for s in ('left', 'bottom'):
        ax.spines[s].set_color(AX_GRAY)
        ax.spines[s].set_linewidth(1.0)
    ax.tick_params(direction='in', length=4, width=0.8, color=AX_GRAY,
                   labelsize=17.5, labelcolor='#262626', pad=6)
    ax.tick_params(axis='x', pad=8.5)
    ax.grid(True, color='#ececec', lw=0.8)
    ax.set_axisbelow(True)
    ax.set_ylim(0, 0.7)
    ax.set_yticks([0, 0.2, 0.4, 0.6])
    ax.set_yticklabels(['0', '0.2', '0.4', '0.6'])


def points(ax, data, color, z):
    if not data:
        return
    d = np.array(data)
    ax.scatter(d[:, 0], d[:, 1], s=28, facecolors='none', edgecolors=color,
               linewidths=1.2, zorder=z, clip_on=False)


def runs(ax, segs, level, color, z):
    for a, b in segs:
        ax.plot([a, b], [level, level], color=color, lw=6.2, solid_capstyle='round', zorder=z)


fig = plt.figure(figsize=(9.18, 9.48), dpi=100)
bottoms = [0.730, 0.4033, 0.0699]
caption_y = [1 - 307 / 948, 1 - 617 / 948, 1 - 935 / 948]

ts = [(a_obs, a_v, a_h, a_h_runs), (b_obs, b_v, b_h, []), (c_obs, [], c_h, c_h_runs)]
sc = [(a_sc_v, a_sc_h, a_sc_h_runs), (b_sc_v, b_sc_h, []), ([], [], c_sc_h_runs)]

tick_pos = np.arange(2018, 2022.01, 0.5)
tick_lab = ['Jan %d' % t if t == int(t) else '' for t in tick_pos]

for i in range(3):
    axl = fig.add_axes([0.0970, bottoms[i], 0.5218, 0.2461])
    axr = fig.add_axes([0.7527, bottoms[i], 0.2527, 0.2461])
    style(axl)
    style(axr)

    obs, v, h, h_runs = ts[i]
    points(axl, v, BLUE, 2)
    points(axl, obs, GREEN, 3)
    runs(axl, h_runs, SAT, RED, 4)
    points(axl, h, RED, 5)
    axl.set_xlim(2018, 2022)
    axl.set_xticks(tick_pos)
    axl.set_xticklabels(tick_lab)
    axl.set_ylabel(ylabels[i], family=SERIF, fontsize=21, color='#555555')
    axl.yaxis.set_label_coords(-0.097, 0.5)

    sv, sh, sh_runs = sc[i]
    axr.plot([0, 0.7], [0, 0.7], color='#333333', lw=1.4, ls=(0, (2.5, 2)), zorder=1)
    points(axr, sv, BLUE, 2)
    runs(axr, sh_runs, SAT, RED, 4)
    points(axr, sh, RED, 5)
    axr.set_xlim(0, 0.7)
    axr.set_xticks([0, 0.5])
    axr.set_xticklabels(['0', '0.5'])
    axr.set_ylabel('SMAP', family=SERIF, fontsize=21, color='#444444')
    axr.yaxis.set_label_coords(-0.216, 0.5)
    axr.set_xlabel('Obs.', family=SERIF, fontsize=21, color='#444444')
    axr.xaxis.set_label_coords(0.44, -0.14)
    axr.text(0.051, 0.67, r_texts[i], family=SERIF, fontsize=10.8, color='#3a3a3a',
             va='center', ha='left', zorder=6)

    fig.text(412 / 918, caption_y[i], captions[i], family=SERIF, fontsize=13,
             ha='center', va='center', color='#111111')

    if i == 2:
        def handle(c):
            return Line2D([], [], ls='none', marker='o', ms=4.5, mfc='none', mec=c, mew=1.0)
        leg = axl.legend([handle(GREEN), handle(BLUE), handle(RED)],
                         ['Obs.', 'SMAP(SCA-V)', 'SMAP(SCA-H)'], ncol=3, loc='lower left',
                         bbox_to_anchor=(0.0856, 0.029), borderaxespad=0, fontsize=15,
                         handlelength=0.8, handletextpad=0.35, columnspacing=0.6,
                         borderpad=0.3, fancybox=False, framealpha=1, edgecolor='#333333')
        leg.get_frame().set_linewidth(0.8)
        leg2 = axr.legend([handle(BLUE), handle(RED)], ['SMAP(SCA-V)', 'SMAP(SCA-H)'],
                          loc='lower right', bbox_to_anchor=(0.974, 0.037), borderaxespad=0,
                          fontsize=15, handlelength=0.8, handletextpad=0.35, labelspacing=0.15,
                          borderpad=0.3, fancybox=False, framealpha=1, edgecolor='#333333')
        leg2.get_frame().set_linewidth(0.8)

fig.savefig('out.png', dpi=100)
